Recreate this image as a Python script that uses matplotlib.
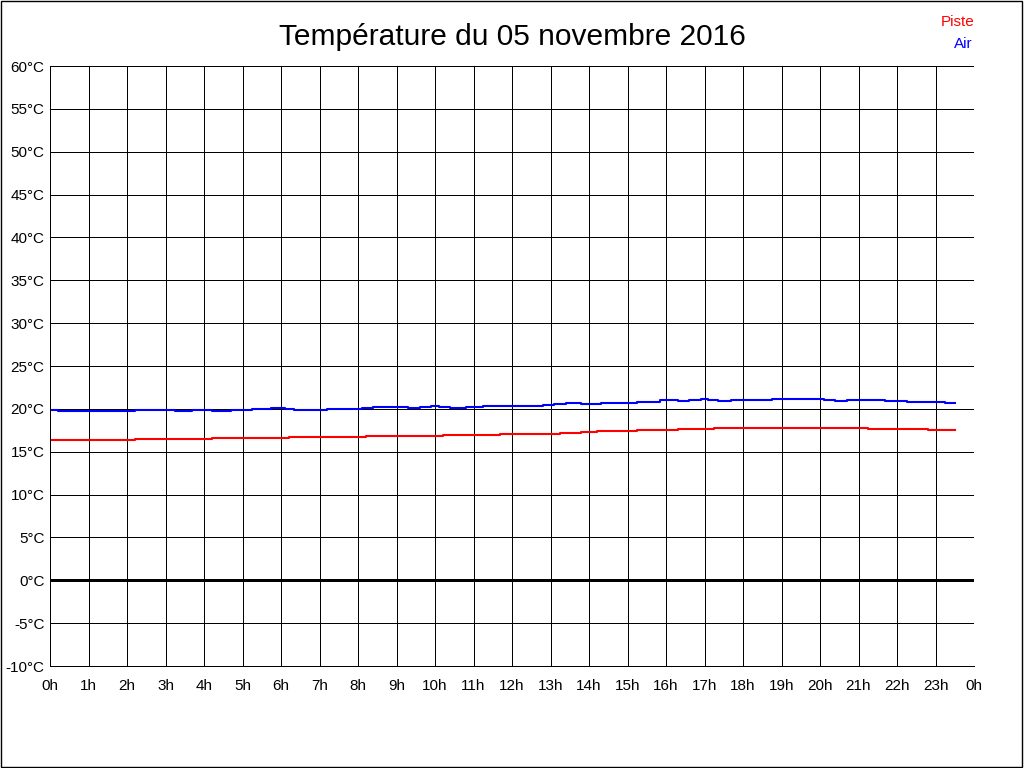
import matplotlib.pyplot as plt
from matplotlib.patches import Rectangle

plt.rcParams['font.family'] = ['Liberation Sans', 'DejaVu Sans']

# Air temperature (blue), breakpoints in hours and values in °C
air_h = [0.0, 0.2, 2.2, 3.25, 3.7, 4.2, 4.7, 5.25, 5.75, 6.1, 6.35, 7.2, 8.1,
         8.4, 9.3, 9.6, 9.9, 10.1, 10.4, 10.8, 11.25, 12.8, 13.1, 13.4, 13.8,
         14.3, 15.25, 15.85, 16.3, 16.6, 16.9, 17.1, 17.35, 17.7, 18.75, 20.1,
         20.4, 20.7, 21.7, 22.25, 23.25, 23.5]
air_t = [19.83, 19.76, 19.83, 19.76, 19.83, 19.76, 19.83, 19.95, 20.07, 19.95,
         19.83, 19.95, 20.07, 20.18, 20.07, 20.18, 20.3, 20.18, 20.07, 20.18,
         20.3, 20.42, 20.6, 20.72, 20.6, 20.72, 20.84, 21.0, 20.88, 21.0, 21.15,
         21.0, 20.88, 21.0, 21.15, 21.0, 20.88, 21.0, 20.88, 20.77, 20.65, 20.65]

# Track temperature (red)
piste_h = [0.0, 2.2, 4.2, 6.2, 8.2, 10.2, 11.7, 13.25, 13.8, 14.2, 15.25,
           16.3, 17.25, 21.25, 22.8, 23.5]
piste_t = [16.37, 16.49, 16.6, 16.72, 16.84, 16.95, 17.07, 17.18, 17.3, 17.4,
           17.53, 17.62, 17.73, 17.62, 17.5, 17.5]

hour_labels = [f"{h % 24}h" for h in range(25)]
temp_ticks = list(range(-10, 61, 5))
temp_labels = [f"{t}°C" for t in temp_ticks]

fig = plt.figure(figsize=(10.24, 7.68), dpi=100)
ax = fig.add_axes([50 / 1024, 1 - 666 / 768, 924 / 1024, 600 / 768])

ax.set_xlim(0, 24)
ax.set_ylim(-10, 60)
ax.set_xticks(range(25))
ax.set_xticklabels(hour_labels)
ax.set_yticks(temp_ticks)
ax.set_yticklabels(temp_labels)
ax.tick_params(length=0, labelsize=11)
ax.tick_params(axis='x', pad=9)
ax.tick_params(axis='y', pad=4)
ax.grid(True, color='black', linewidth=0.72, antialiased=False)
ax.set_axisbelow(True)
for s in ['top', 'right']:
    ax.spines[s].set_visible(False)
for s in ['left', 'bottom']:
    ax.spines[s].set_linewidth(0.72)

ax.axhline(0, color='black', linewidth=2.0, antialiased=False)

ax.step(piste_h, piste_t, where='post', color='#ff0000', linewidth=1.5)
ax.step(air_h, air_t, where='post', color='#0000ff', linewidth=1.5)

fig.text(0.5, 1 - 37 / 768, "Température du 05 novembre 2016", ha='center',
         va='center', fontsize=21.5)
fig.text(975 / 1024, 1 - 22 / 768, "Piste", color='#ff0000', ha='right',
         va='center', fontsize=11)
fig.text(973 / 1024, 1 - 44 / 768, "Air", color='#0000ff', ha='right',
         va='center', fontsize=11)

fig.patches.append(Rectangle((0.0005, 0.0007), 0.998, 0.998, transform=fig.transFigure,
                             fill=False, edgecolor='black', linewidth=1))

plt.savefig("out.png", dpi=100)
